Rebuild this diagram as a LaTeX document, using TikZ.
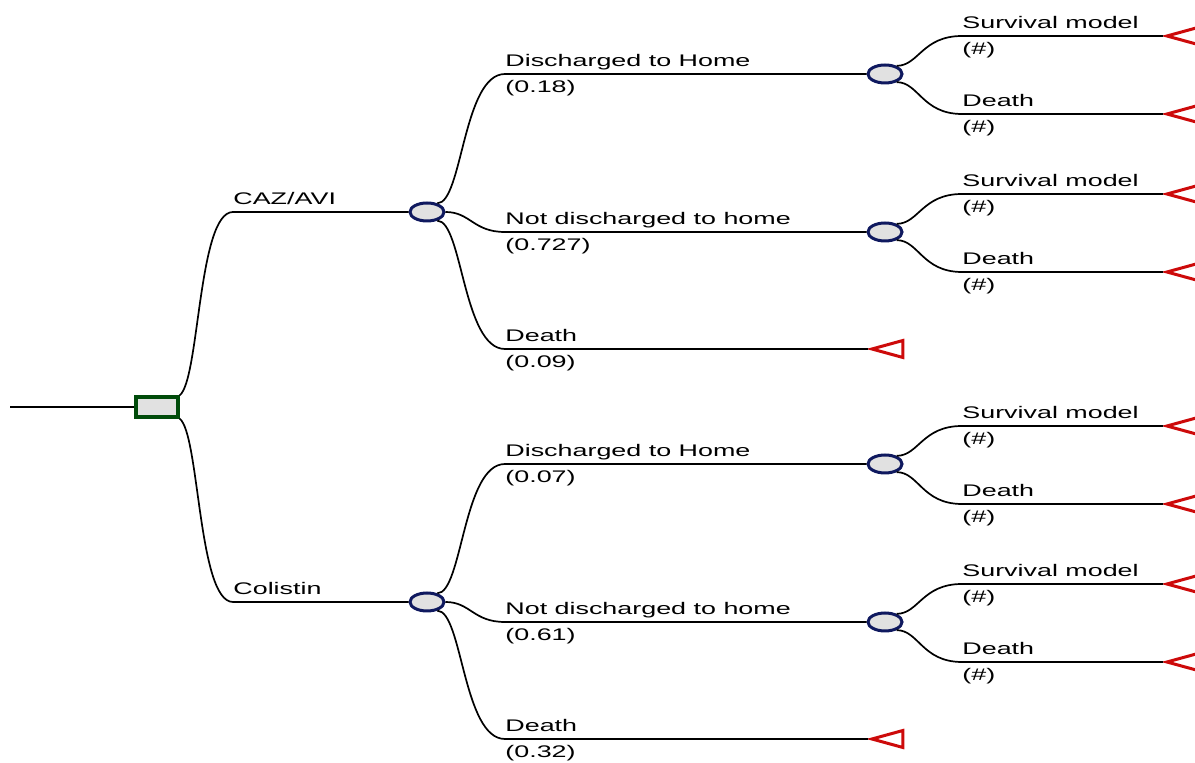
\documentclass[tikz,border=0pt]{standalone}
\usepackage{fontspec}
\setmainfont{Liberation Sans}[FakeStretch=1.6]
\usetikzlibrary{shapes.geometric, positioning}
\definecolor{treegreen}{RGB}{0,75,10}
\definecolor{treenavy}{RGB}{15,25,95}
\definecolor{treered}{RGB}{205,10,10}
\definecolor{treegray}{RGB}{225,225,225}
\tikzset{
  decision/.style={draw=treegreen, fill=treegray, line width=1.6pt,
    minimum width=21pt, minimum height=10pt, inner sep=0pt},
  chance/.style={ellipse, draw=treenavy, fill=treegray, line width=1.5pt,
    minimum width=17pt, minimum height=9pt, inner sep=0pt},
  terminal/.style={isosceles triangle, shape border rotate=180,
    isosceles triangle stretches, draw=treered, line width=1.5pt,
    minimum height=15.5pt, minimum width=8.5pt, inner sep=0pt, anchor=apex},
  branch/.style={line width=0.85pt},
  lbl/.style={font=\fontsize{8.4}{10}\selectfont, inner sep=0pt, anchor=base west}
}
\begin{document}
\begin{tikzpicture}[x=0.5pt, y=-0.5pt]
\useasboundingbox (0,0) rectangle (1195,763);
% decision node and incoming line
\node[decision] (dec) at (157,407) {};
\coordinate (root) at (10,407);
\draw[branch] (root) -- (dec.west);

% treatment arms
\node[chance] (cA) at (427,212) {};
\node[chance] (cB) at (427,602) {};
\coordinate (kA) at (233,212);
\coordinate (kB) at (233,602);
\draw[branch] (dec.north east) .. controls +(20,-15) and +(-35,0) .. (kA) -- (cA.west);
\draw[branch] (dec.south east) .. controls +(20,15) and +(-35,0) .. (kB) -- (cB.west);
\node[lbl] (lA) at ([yshift=3.5pt]kA) {CAZ/AVI};
\node[lbl] (lB) at ([yshift=3.5pt]kB) {Colistin};

% outcomes of each arm
\foreach \arm/\y/\pH/\pN/\pD in {A/212/0.18/0.727/0.09, B/602/0.07/0.61/0.32} {
  \pgfmathsetmacro{\yH}{\y-138}
  \pgfmathsetmacro{\yN}{\y+20}
  \pgfmathsetmacro{\yD}{\y+137}
  \node[chance] (h\arm) at (885,\yH) {};
  \node[chance] (n\arm) at (885,\yN) {};
  \node[terminal] (d\arm) at (868,\yD) {};
  \coordinate (kh\arm) at (505,\yH);
  \coordinate (kn\arm) at (505,\yN);
  \coordinate (kd\arm) at (505,\yD);
  \draw[branch] (c\arm.40) .. controls +(25,0) and +(-42,0) .. (kh\arm) -- (h\arm.west);
  \draw[branch] (c\arm.east) .. controls +(25,0) and +(-32,0) .. (kn\arm) -- (n\arm.west);
  \draw[branch] (c\arm.-40) .. controls +(25,0) and +(-42,0) .. (kd\arm) -- (d\arm.apex);
  \node[lbl] (lh\arm) at ([yshift=3.5pt]kh\arm) {Discharged to Home};
  \node[lbl] (ph\arm) at ([yshift=-9.5pt]kh\arm) {(\pH)};
  \node[lbl] (ln\arm) at ([yshift=3.5pt]kn\arm) {Not discharged to home};
  \node[lbl] (pn\arm) at ([yshift=-9.5pt]kn\arm) {(\pN)};
  \node[lbl] (ld\arm) at ([yshift=3.5pt]kd\arm) {Death};
  \node[lbl] (pd\arm) at ([yshift=-9.5pt]kd\arm) {(\pD)};
}

% survival model / death leaves
\foreach \c/\y in {hA/74, nA/232, hB/464, nB/622} {
  \pgfmathsetmacro{\yS}{\y-38}
  \pgfmathsetmacro{\yT}{\y+40}
  \node[terminal] (s\c) at (1163,\yS) {};
  \node[terminal] (t\c) at (1163,\yT) {};
  \coordinate (ks\c) at (962,\yS);
  \coordinate (kt\c) at (962,\yT);
  \draw[branch] (\c.35) .. controls +(22,0) and +(-40,0) .. (ks\c) -- (s\c.apex);
  \draw[branch] (\c.-35) .. controls +(22,0) and +(-40,0) .. (kt\c) -- (t\c.apex);
  \node[lbl] (ls\c) at ([yshift=3.5pt]ks\c) {Survival model};
  \node[lbl] (ps\c) at ([yshift=-9.5pt]ks\c) {(\#)};
  \node[lbl] (lt\c) at ([yshift=3.5pt]kt\c) {Death};
  \node[lbl] (pt\c) at ([yshift=-9.5pt]kt\c) {(\#)};
}
\end{tikzpicture}
\end{document}
